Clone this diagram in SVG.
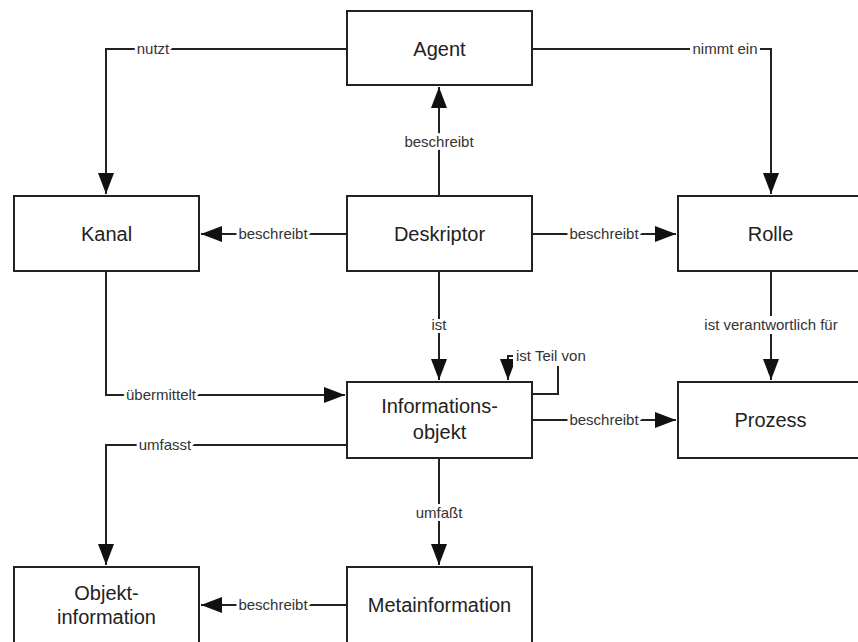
<svg xmlns="http://www.w3.org/2000/svg" width="858" height="642" viewBox="0 0 858 642">
<style>
.box{fill:#fff;stroke:#222;stroke-width:2}
.nt{font-family:"Liberation Sans",Arial,sans-serif;font-size:20px;fill:#222;text-anchor:middle}
.ln{fill:none;stroke:#222;stroke-width:2}
.lb{font-family:"Liberation Sans",Arial,sans-serif;font-size:15px;fill:#333;text-anchor:middle;paint-order:stroke;stroke:#fff;stroke-width:6px;stroke-linejoin:round}
.bg{fill:#fff}
</style>
<defs>
<marker id="arr" markerUnits="userSpaceOnUse" markerWidth="22" markerHeight="18" refX="21" refY="8" orient="auto">
<path d="M0,0 L21,8 L0,16 Z" fill="#111"/>
</marker>
</defs>
<rect width="858" height="642" fill="#fff"/>
<g id="connectors">
<path class="ln" d="M347,49 H106 V194" marker-end="url(#arr)"/>
<path class="ln" d="M532,49 H771 V194" marker-end="url(#arr)"/>
<path class="ln" d="M439,196 V87" marker-end="url(#arr)"/>
<path class="ln" d="M347,234 H201" marker-end="url(#arr)"/>
<path class="ln" d="M532,234 H676" marker-end="url(#arr)"/>
<path class="ln" d="M439,271 V380" marker-end="url(#arr)"/>
<path class="ln" d="M771,271 V380" marker-end="url(#arr)"/>
<path class="ln" d="M106,271 V395 H345" marker-end="url(#arr)"/>
<path class="ln" d="M532,394 H558 V356 H508 V380" marker-end="url(#arr)"/>
<path class="ln" d="M532,420 H676" marker-end="url(#arr)"/>
<path class="ln" d="M347,445 H106 V565" marker-end="url(#arr)"/>
<path class="ln" d="M439,458 V565" marker-end="url(#arr)"/>
<path class="ln" d="M347,605 H201" marker-end="url(#arr)"/>
<rect class="bg" x="690" y="41" width="70" height="16"/>
<rect class="bg" x="700" y="316" width="142" height="18"/>
<rect class="bg" x="513" y="346" width="84" height="20"/>
<text class="lb" x="153" y="54">nutzt</text>
<text class="lb" x="725" y="54">nimmt ein</text>
<text class="lb" x="439" y="147">beschreibt</text>
<text class="lb" x="273" y="239">beschreibt</text>
<text class="lb" x="604" y="239">beschreibt</text>
<text class="lb" x="439" y="330">ist</text>
<text class="lb" x="771" y="330">ist verantwortlich für</text>
<text class="lb" x="516" y="361" style="text-anchor:start">ist Teil von</text>
<text class="lb" x="161" y="400">übermittelt</text>
<text class="lb" x="604" y="425">beschreibt</text>
<text class="lb" x="165" y="450">umfasst</text>
<text class="lb" x="439" y="518">umfaßt</text>
<text class="lb" x="273" y="610">beschreibt</text>
</g>
<g id="agent"><rect class="box" x="347" y="11" width="185" height="74"/><text class="nt" x="439.5" y="56">Agent</text></g>
<g id="kanal"><rect class="box" x="14" y="196" width="185" height="75"/><text class="nt" x="106.5" y="241">Kanal</text></g>
<g id="deskriptor"><rect class="box" x="347" y="196" width="185" height="75"/><text class="nt" x="439.5" y="241">Deskriptor</text></g>
<g id="rolle"><rect class="box" x="678" y="196" width="185" height="75"/><text class="nt" x="770.5" y="241">Rolle</text></g>
<g id="informationsobjekt"><rect class="box" x="347" y="382" width="185" height="76"/><text class="nt" x="439.5" y="413">Informations-</text><text class="nt" x="439.5" y="439">objekt</text></g>
<g id="prozess"><rect class="box" x="678" y="382" width="185" height="76"/><text class="nt" x="770.5" y="427">Prozess</text></g>
<g id="objektinformation"><rect class="box" x="14" y="567" width="185" height="77"/><text class="nt" x="106.5" y="600">Objekt-</text><text class="nt" x="106.5" y="624">information</text></g>
<g id="metainformation"><rect class="box" x="347" y="567" width="185" height="77"/><text class="nt" x="439.5" y="612">Metainformation</text></g>
</svg>
